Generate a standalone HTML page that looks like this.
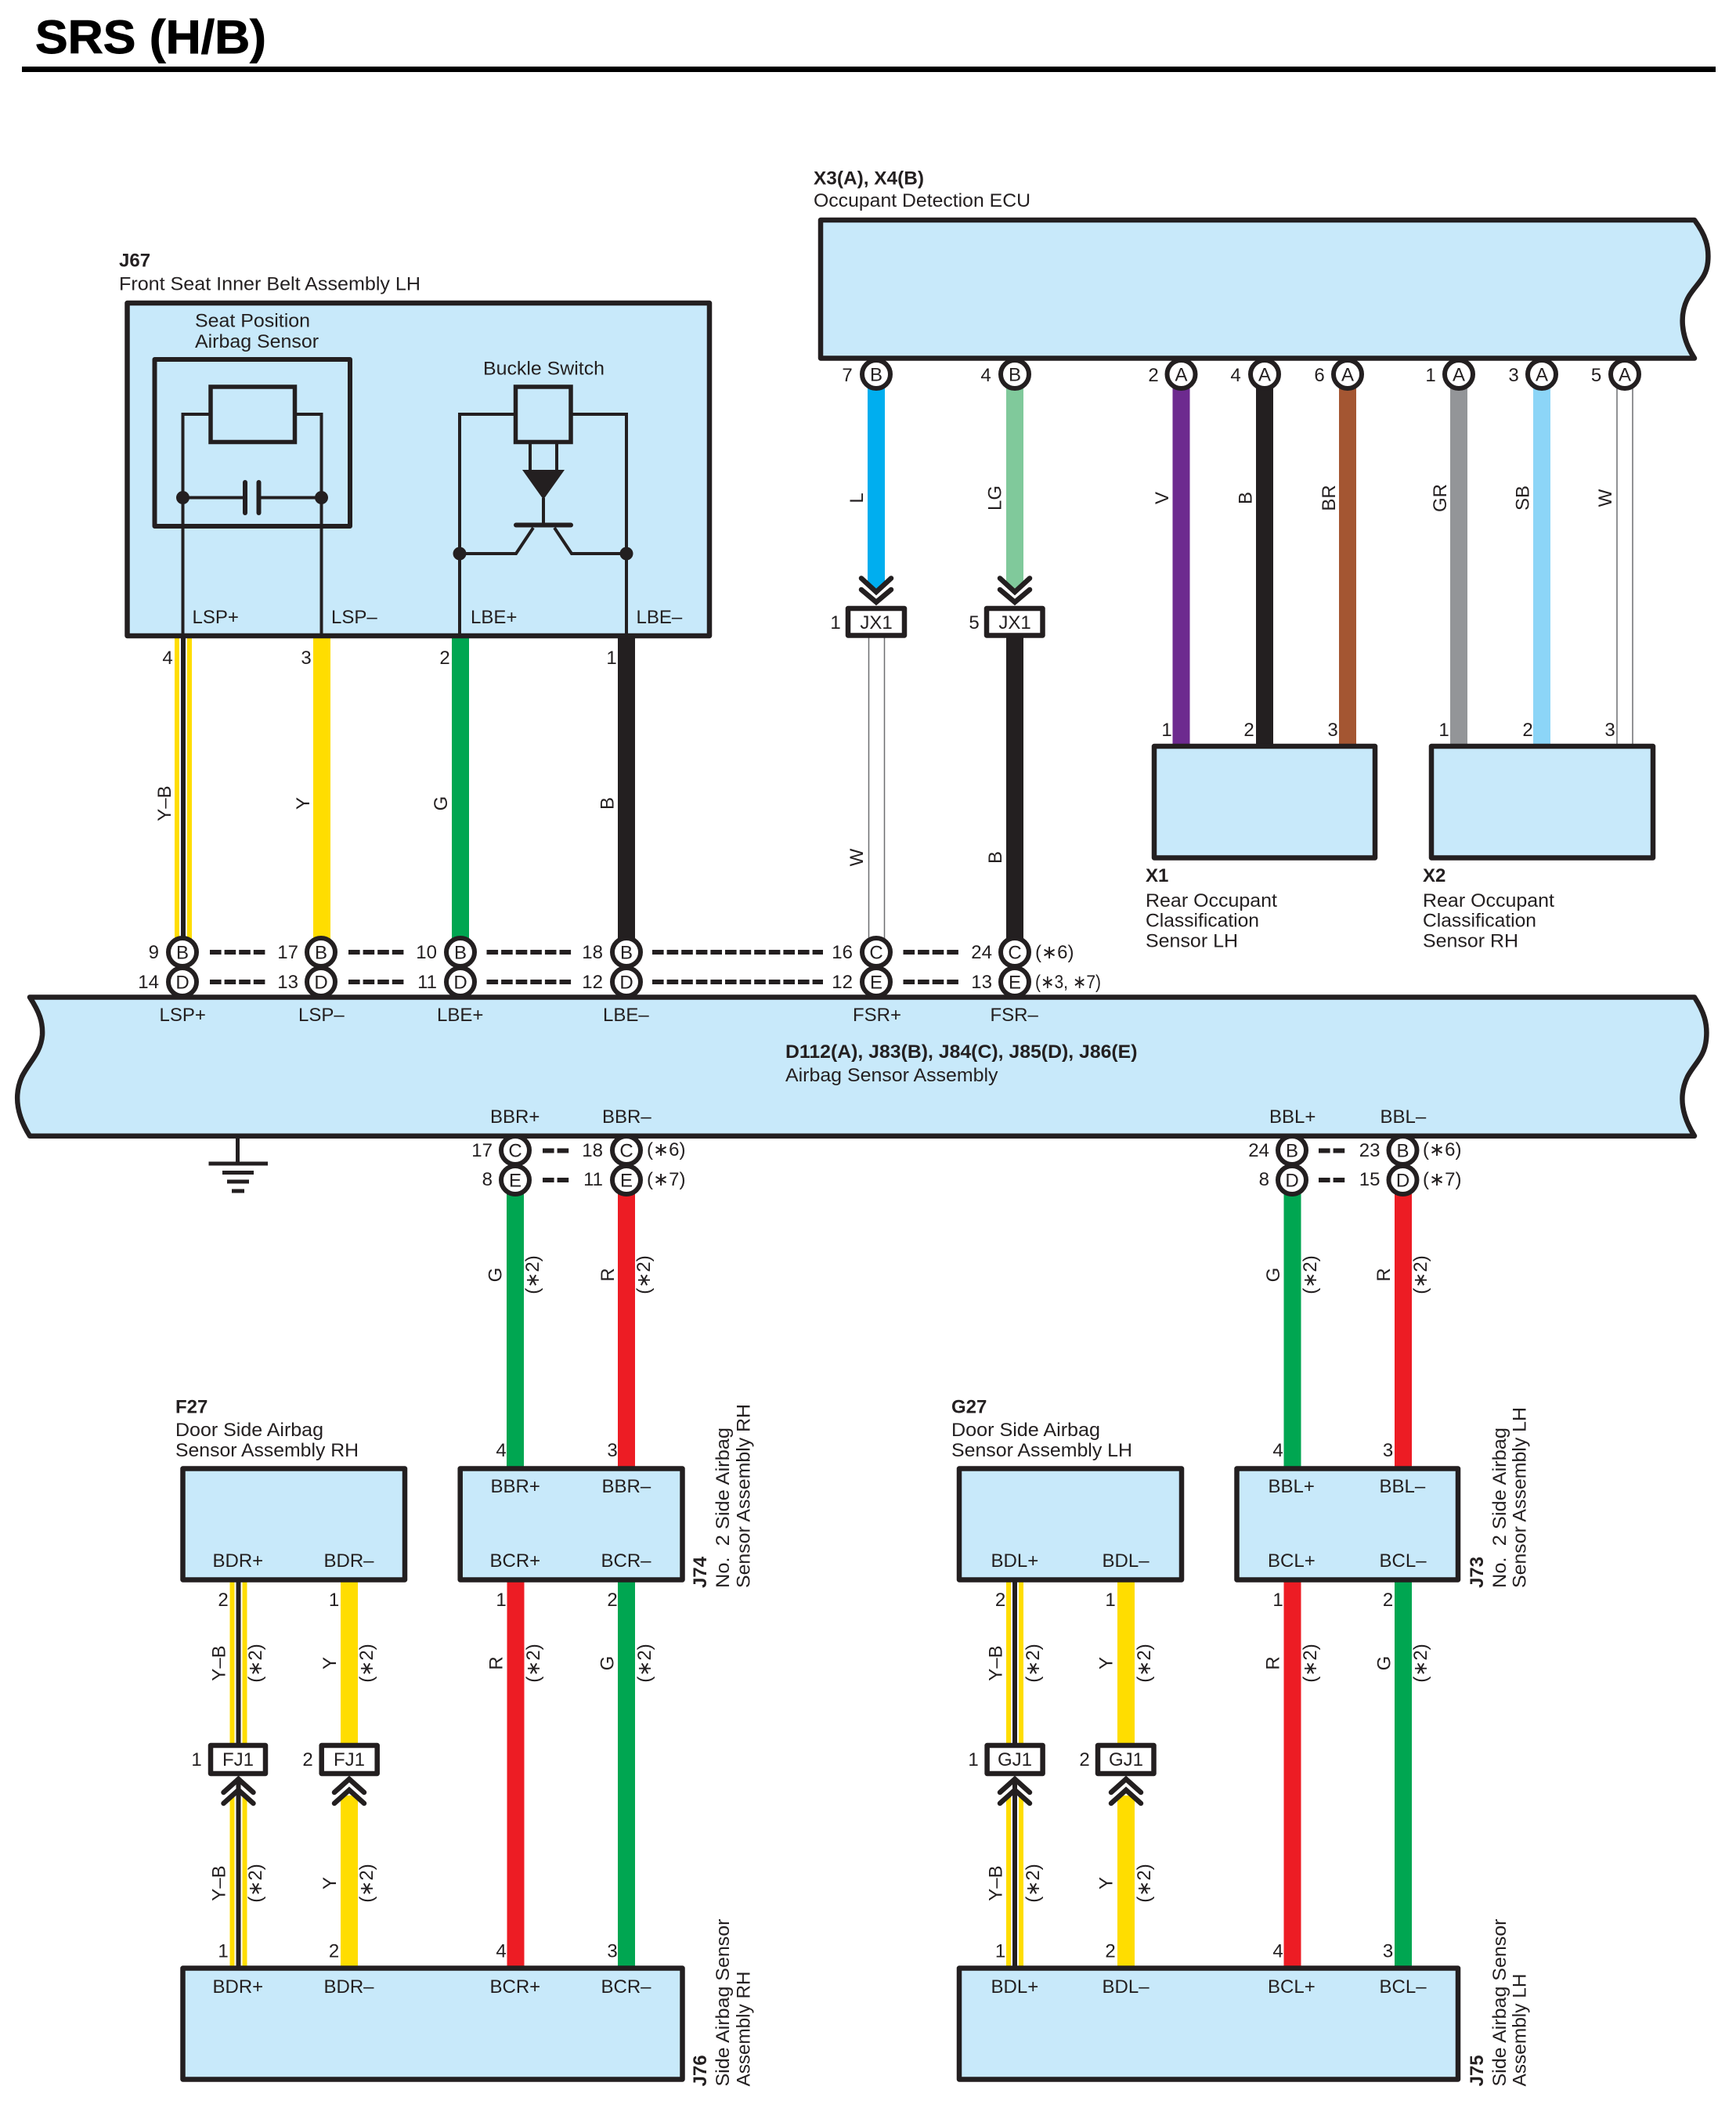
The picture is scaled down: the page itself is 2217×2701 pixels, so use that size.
<!DOCTYPE html>
<html><head><meta charset="utf-8"><title>SRS (H/B)</title>
<style>
html,body{margin:0;padding:0;background:#fff}
svg{display:block}
text{font-family:"Liberation Sans",sans-serif;font-size:24px;fill:#231f20}
.b{font-weight:bold}
.m{text-anchor:middle}
.e{text-anchor:end}
.box{fill:#c8e9fa;stroke:#231f20;stroke-width:6.5;stroke-linejoin:round}
.ln{stroke:#231f20;fill:none}
.c{fill:#fff;stroke:#231f20;stroke-width:6}
.w{stroke-width:22;fill:none}
.gy{stroke:#6d6e71;stroke-width:1.5}
</style></head><body>
<svg xmlns="http://www.w3.org/2000/svg" width="2217" height="2701" viewBox="0 0 2217 2701">
<rect width="2217" height="2701" fill="#fff"/>
<text class="b" x="45" y="68" style="font-size:60px;fill:#000;stroke:#000;stroke-width:.9" textLength="295" lengthAdjust="spacingAndGlyphs">SRS (H/B)</text>
<rect x="28" y="85" width="2163" height="7" fill="#000"/>

<!-- wires top-left -->
<g class="w">
<line x1="234" y1="812" x2="234" y2="1200" stroke="#ffdd00"/>
<line x1="234" y1="812" x2="234" y2="1200" stroke="#fff" stroke-width="10"/>
<line x1="234" y1="812" x2="234" y2="1200" stroke="#231f20" stroke-width="6"/>
<line x1="411" y1="812" x2="411" y2="1200" stroke="#ffdd00"/>
<line x1="588" y1="812" x2="588" y2="1200" stroke="#00a651"/>
<line x1="800" y1="812" x2="800" y2="1200" stroke="#231f20"/>
<line x1="1296" y1="810" x2="1296" y2="1200" stroke="#231f20"/>
<line x1="1508.5" y1="490" x2="1508.5" y2="955" stroke="#6d2a8f"/>
<line x1="1615" y1="490" x2="1615" y2="955" stroke="#231f20"/>
<line x1="1721" y1="490" x2="1721" y2="955" stroke="#a45632"/>
<line x1="1863" y1="490" x2="1863" y2="955" stroke="#939598"/>
<line x1="1969" y1="490" x2="1969" y2="955" stroke="#8cd5f7"/>
<line x1="658" y1="1520" x2="658" y2="1880" stroke="#00a651"/>
<line x1="800" y1="1520" x2="800" y2="1880" stroke="#ed1c24"/>
<line x1="1650.5" y1="1520" x2="1650.5" y2="1880" stroke="#00a651"/>
<line x1="1792" y1="1520" x2="1792" y2="1880" stroke="#ed1c24"/>
<line x1="658.5" y1="2015" x2="658.5" y2="2515" stroke="#ed1c24"/>
<line x1="800" y1="2015" x2="800" y2="2515" stroke="#00a651"/>
<line x1="1650.5" y1="2015" x2="1650.5" y2="2515" stroke="#ed1c24"/>
<line x1="1792" y1="2015" x2="1792" y2="2515" stroke="#00a651"/>
<line x1="446" y1="2015" x2="446" y2="2230" stroke="#ffdd00"/>
<line x1="446" y1="2293" x2="446" y2="2515" stroke="#ffdd00"/>
<line x1="1438" y1="2015" x2="1438" y2="2230" stroke="#ffdd00"/>
<line x1="1438" y1="2293" x2="1438" y2="2515" stroke="#ffdd00"/>
<line x1="304.5" y1="2015" x2="304.5" y2="2230" stroke="#ffdd00"/>
<line x1="304.5" y1="2015" x2="304.5" y2="2230" stroke="#fff" stroke-width="10"/>
<line x1="304.5" y1="2015" x2="304.5" y2="2230" stroke="#231f20" stroke-width="6"/>
<line x1="304.5" y1="2293" x2="304.5" y2="2515" stroke="#ffdd00"/>
<line x1="304.5" y1="2293" x2="304.5" y2="2515" stroke="#fff" stroke-width="10"/>
<line x1="304.5" y1="2272" x2="304.5" y2="2515" stroke="#231f20" stroke-width="6"/>
<line x1="1296" y1="2015" x2="1296" y2="2230" stroke="#ffdd00"/>
<line x1="1296" y1="2015" x2="1296" y2="2230" stroke="#fff" stroke-width="10"/>
<line x1="1296" y1="2015" x2="1296" y2="2230" stroke="#231f20" stroke-width="6"/>
<line x1="1296" y1="2293" x2="1296" y2="2515" stroke="#ffdd00"/>
<line x1="1296" y1="2293" x2="1296" y2="2515" stroke="#fff" stroke-width="10"/>
<line x1="1296" y1="2272" x2="1296" y2="2515" stroke="#231f20" stroke-width="6"/>
</g>
<polygon points="1108,490 1130,490 1130,745 1119,754 1108,745" fill="#00aeef"/>
<polygon points="1285,490 1307,490 1307,745 1296,754 1285,745" fill="#80c99b"/>
<!-- white wires -->
<g class="gy">
<line x1="1109.5" y1="812" x2="1109.5" y2="1200"/><line x1="1129.5" y1="812" x2="1129.5" y2="1200"/>
<line x1="2065" y1="495" x2="2065" y2="953"/><line x1="2085" y1="495" x2="2085" y2="953"/>
</g>

<!-- connector circles -->
<g class="c">
<circle cx="1119" cy="478" r="18"/><circle cx="1296" cy="478" r="18"/><circle cx="1508.5" cy="478" r="18"/><circle cx="1615" cy="478" r="18"/><circle cx="1721" cy="478" r="18"/><circle cx="1863" cy="478" r="18"/><circle cx="1969" cy="478" r="18"/><circle cx="2075" cy="478" r="18"/>
<circle cx="233" cy="1216" r="18"/><circle cx="410" cy="1216" r="18"/><circle cx="588" cy="1216" r="18"/><circle cx="800" cy="1216" r="18"/><circle cx="1119" cy="1216" r="18"/><circle cx="1296" cy="1216" r="18"/>
<circle cx="233" cy="1254" r="18"/><circle cx="410" cy="1254" r="18"/><circle cx="588" cy="1254" r="18"/><circle cx="800" cy="1254" r="18"/><circle cx="1119" cy="1254" r="18"/><circle cx="1296" cy="1254" r="18"/>
<circle cx="658" cy="1469" r="18"/><circle cx="800" cy="1469" r="18"/><circle cx="1650" cy="1469" r="18"/><circle cx="1791.5" cy="1469" r="18"/>
<circle cx="658" cy="1507" r="18"/><circle cx="800" cy="1507" r="18"/><circle cx="1650" cy="1507" r="18"/><circle cx="1791.5" cy="1507" r="18"/>
</g>
<g class="m">
<text x="1119" y="486.5">B</text><text x="1296" y="486.5">B</text><text x="1508.5" y="486.5">A</text><text x="1615" y="486.5">A</text><text x="1721" y="486.5">A</text><text x="1863" y="486.5">A</text><text x="1969" y="486.5">A</text><text x="2075" y="486.5">A</text>
<text x="233" y="1224.5">B</text><text x="410" y="1224.5">B</text><text x="588" y="1224.5">B</text><text x="800" y="1224.5">B</text><text x="1119" y="1224.5">C</text><text x="1296" y="1224.5">C</text>
<text x="233" y="1262.5">D</text><text x="410" y="1262.5">D</text><text x="588" y="1262.5">D</text><text x="800" y="1262.5">D</text><text x="1119" y="1262.5">E</text><text x="1296" y="1262.5">E</text>
<text x="658" y="1477.5">C</text><text x="800" y="1477.5">C</text><text x="1650" y="1477.5">B</text><text x="1791.5" y="1477.5">B</text>
<text x="658" y="1515.5">E</text><text x="800" y="1515.5">E</text><text x="1650" y="1515.5">D</text><text x="1791.5" y="1515.5">D</text>
</g>

<!-- ECU -->
<text class="b" x="1039" y="235.5" textLength="141" lengthAdjust="spacingAndGlyphs">X3(A), X4(B)</text>
<text x="1039" y="264" textLength="277" lengthAdjust="spacingAndGlyphs">Occupant Detection ECU</text>
<path class="box" d="M1048,281 L2164,281 C2178,300 2183,315 2181,335 C2179,355 2167,362 2157,378 C2144,400 2146,430 2164,457.5 L1048,457.5 Z"/>

<!-- J67 -->
<text class="b" x="152" y="340.5">J67</text>
<text x="152" y="370.5" textLength="385" lengthAdjust="spacingAndGlyphs">Front Seat Inner Belt Assembly LH</text>
<rect class="box" x="162.5" y="387" width="743.5" height="425"/>
<text x="249" y="417.5" textLength="147" lengthAdjust="spacingAndGlyphs">Seat Position</text>
<text x="249" y="444" textLength="158" lengthAdjust="spacingAndGlyphs">Airbag Sensor</text>
<text x="617" y="478.5" textLength="155" lengthAdjust="spacingAndGlyphs">Buckle Switch</text>
<rect class="ln" x="197.5" y="459" width="249.5" height="213" stroke-width="6" stroke-linejoin="round"/>
<rect class="ln" x="269" y="494" width="107.5" height="70.5" stroke-width="5.5"/>
<rect class="ln" x="658.5" y="494" width="70.5" height="70.5" stroke-width="5.5"/>
<g class="ln" stroke-width="4">
<path d="M269,529 H233.5 V812"/>
<path d="M376,529 H410.5 V812"/>
<path d="M233.5,635.5 H313"/><path d="M330,635.5 H410.5"/>
<path d="M658,529 H587 V812"/>
<path d="M729,529 H800 V812"/>
<path d="M677,565 V602"/><path d="M711,565 V602"/>
<path d="M694,636 V670"/>
<path d="M681,674 L659,707 H587"/>
<path d="M708,674 L730,707 H800"/>
</g>
<g class="ln" stroke-width="6" stroke-linecap="round">
<path d="M313,616 V655"/><path d="M330.5,616 V655"/>
<path d="M659,670.5 H729"/>
</g>
<polygon points="667,600 721,600 694,638" fill="#231f20"/>
<g fill="#231f20">
<circle cx="233.5" cy="635.5" r="8.5"/><circle cx="410.5" cy="635.5" r="8.5"/>
<circle cx="587" cy="707" r="8.5"/><circle cx="800" cy="707" r="8.5"/>
</g>
<text x="245.5" y="796">LSP+</text><text x="423" y="796">LSP–</text><text x="601" y="796">LBE+</text><text x="812.5" y="796">LBE–</text>
<g class="m"><text x="214" y="848">4</text><text x="391" y="848">3</text><text x="568" y="848">2</text><text x="781" y="848">1</text></g>

<!-- JX1 -->
<g class="ln" stroke-width="6.5" stroke-linecap="round">
<path d="M1100,738.5 L1119,756 L1138,738.5"/><path d="M1100,753 L1119,769 L1138,753"/>
<path d="M1277,738.5 L1296,756 L1315,738.5"/><path d="M1277,753 L1296,769 L1315,753"/>
</g>
<rect x="1083" y="777" width="72" height="34.5" fill="#fff" stroke="#231f20" stroke-width="6.5" stroke-linejoin="round"/>
<rect x="1260" y="777" width="71.5" height="34.5" fill="#fff" stroke="#231f20" stroke-width="6.5" stroke-linejoin="round"/>
<text class="m" x="1119" y="803">JX1</text><text class="m" x="1296" y="803">JX1</text>
<text class="m" x="1067" y="803">1</text><text class="m" x="1244" y="803">5</text>

<!-- ECU pins -->
<g class="m">
<text x="1082" y="487">7</text><text x="1259" y="487">4</text><text x="1473" y="487">2</text><text x="1578" y="487">4</text><text x="1685" y="487">6</text><text x="1827" y="487">1</text><text x="1933" y="487">3</text><text x="2038.5" y="487">5</text>
<text x="1490" y="940">1</text><text x="1595" y="940">2</text><text x="1702" y="940">3</text><text x="1844" y="940">1</text><text x="1951" y="940">2</text><text x="2056" y="940">3</text>
</g>

<!-- X1 X2 -->
<rect class="box" x="1474" y="953" width="282" height="142.5"/>
<rect class="box" x="1828" y="953" width="283" height="142.5"/>
<text class="b" x="1463" y="1126">X1</text>
<text x="1463" y="1158" textLength="168" lengthAdjust="spacingAndGlyphs">Rear Occupant</text>
<text x="1463" y="1183.5" textLength="145" lengthAdjust="spacingAndGlyphs">Classification</text>
<text x="1463" y="1209.5" textLength="118" lengthAdjust="spacingAndGlyphs">Sensor LH</text>
<text class="b" x="1817" y="1126">X2</text>
<text x="1817" y="1158" textLength="168" lengthAdjust="spacingAndGlyphs">Rear Occupant</text>
<text x="1817" y="1183.5" textLength="145" lengthAdjust="spacingAndGlyphs">Classification</text>
<text x="1817" y="1209.5" textLength="122" lengthAdjust="spacingAndGlyphs">Sensor RH</text>

<!-- rotated wire labels -->
<g class="m">
<text transform="translate(1102,636) rotate(-90)">L</text>
<text transform="translate(1278.5,636) rotate(-90)">LG</text>
<text transform="translate(1492,636) rotate(-90)">V</text>
<text transform="translate(1598.5,636) rotate(-90)">B</text>
<text transform="translate(1705,636) rotate(-90)">BR</text>
<text transform="translate(1847,636) rotate(-90)">GR</text>
<text transform="translate(1952.5,636) rotate(-90)">SB</text>
<text transform="translate(2058,636) rotate(-90)">W</text>
<text transform="translate(1102,1095) rotate(-90)">W</text>
<text transform="translate(1279,1095) rotate(-90)">B</text>
<text transform="translate(218,1026) rotate(-90)">Y–B</text>
<text transform="translate(395,1026) rotate(-90)">Y</text>
<text transform="translate(571,1026) rotate(-90)">G</text>
<text transform="translate(783.5,1026) rotate(-90)">B</text>
<text transform="translate(640.5,1628) rotate(-90)">G</text>
<text transform="translate(784,1628) rotate(-90)">R</text>
<text transform="translate(1634,1628) rotate(-90)">G</text>
<text transform="translate(1775,1628) rotate(-90)">R</text>
<text transform="translate(688,1628) rotate(-90)">(∗2)</text>
<text transform="translate(830,1628) rotate(-90)">(∗2)</text>
<text transform="translate(1681,1628) rotate(-90)">(∗2)</text>
<text transform="translate(1822,1628) rotate(-90)">(∗2)</text>
<text transform="translate(287.5,2124) rotate(-90)">Y–B</text>
<text transform="translate(429,2124) rotate(-90)">Y</text>
<text transform="translate(641.5,2124) rotate(-90)">R</text>
<text transform="translate(783.5,2124) rotate(-90)">G</text>
<text transform="translate(334,2124) rotate(-90)">(∗2)</text>
<text transform="translate(476,2124) rotate(-90)">(∗2)</text>
<text transform="translate(689,2124) rotate(-90)">(∗2)</text>
<text transform="translate(831,2124) rotate(-90)">(∗2)</text>
<text transform="translate(287.5,2405) rotate(-90)">Y–B</text>
<text transform="translate(429,2405) rotate(-90)">Y</text>
<text transform="translate(334,2405) rotate(-90)">(∗2)</text>
<text transform="translate(476,2405) rotate(-90)">(∗2)</text>
<text transform="translate(1279.5,2124) rotate(-90)">Y–B</text>
<text transform="translate(1420.5,2124) rotate(-90)">Y</text>
<text transform="translate(1633.5,2124) rotate(-90)">R</text>
<text transform="translate(1775.5,2124) rotate(-90)">G</text>
<text transform="translate(1327,2124) rotate(-90)">(∗2)</text>
<text transform="translate(1469,2124) rotate(-90)">(∗2)</text>
<text transform="translate(1681,2124) rotate(-90)">(∗2)</text>
<text transform="translate(1822,2124) rotate(-90)">(∗2)</text>
<text transform="translate(1279.5,2405) rotate(-90)">Y–B</text>
<text transform="translate(1420.5,2405) rotate(-90)">Y</text>
<text transform="translate(1327,2405) rotate(-90)">(∗2)</text>
<text transform="translate(1469,2405) rotate(-90)">(∗2)</text>
</g>

<!-- dashes -->
<g class="ln" stroke-width="6" stroke-dasharray="14.6 4">
<path d="M268,1216 H340"/><path d="M445,1216 H517"/><path d="M621.5,1216 H731"/><path d="M833,1216 H1051"/><path d="M1153.5,1216 H1227"/>
<path d="M268,1254 H340"/><path d="M445,1254 H517"/><path d="M621.5,1254 H731"/><path d="M833,1254 H1051"/><path d="M1153.5,1254 H1227"/>
<path d="M693,1469.5 H727.5"/><path d="M693,1507 H727.5"/><path d="M1684,1469.5 H1719"/><path d="M1684,1507 H1719"/>
</g>
<g class="e">
<text x="203" y="1224">9</text><text x="381" y="1224">17</text><text x="558" y="1224">10</text><text x="770" y="1224">18</text><text x="1089" y="1224">16</text><text x="1267" y="1224">24</text>
<text x="203" y="1262">14</text><text x="381" y="1262">13</text><text x="558" y="1262">11</text><text x="770" y="1262">12</text><text x="1089" y="1262">12</text><text x="1267" y="1262">13</text>
<text x="629" y="1477">17</text><text x="770" y="1477">18</text><text x="1621" y="1477">24</text><text x="1762.5" y="1477">23</text>
<text x="629" y="1514">8</text><text x="770" y="1514">11</text><text x="1621" y="1514">8</text><text x="1762.5" y="1514">15</text>
</g>
<text x="1322" y="1224">(∗6)</text>
<text x="1322" y="1262" textLength="84" lengthAdjust="spacingAndGlyphs">(∗3, ∗7)</text>
<text x="826" y="1476">(∗6)</text><text x="826" y="1514">(∗7)</text>
<text x="1817" y="1476">(∗6)</text><text x="1817" y="1514">(∗7)</text>

<!-- main bar -->
<path class="box" d="M38,1273.5 L2164,1273.5 C2176,1292 2181,1307 2179,1327 C2177,1350 2164,1358 2155,1375 C2143,1400 2148,1425 2164,1450.7 L38,1450.7 C22,1425 17,1400 28,1375 C38,1355 52,1345 54,1322 C55,1305 50,1292 38,1273.5 Z"/>
<text x="203.5" y="1304">LSP+</text><text x="381" y="1304">LSP–</text><text x="558" y="1304">LBE+</text><text x="770" y="1304">LBE–</text><text x="1089" y="1304">FSR+</text><text x="1264.5" y="1304">FSR–</text>
<text class="b" x="1003" y="1351" textLength="449.5" lengthAdjust="spacingAndGlyphs">D112(A), J83(B), J84(C), J85(D), J86(E)</text>
<text x="1003" y="1381" textLength="271.5" lengthAdjust="spacingAndGlyphs">Airbag Sensor Assembly</text>
<text x="626" y="1434">BBR+</text><text x="769" y="1434">BBR–</text><text x="1621" y="1434">BBL+</text><text x="1762.5" y="1434">BBL–</text>

<!-- ground -->
<g class="ln" stroke-width="5">
<path d="M303.5,1454 V1486"/><path d="M266.5,1486 H342"/><path d="M284,1497.5 H324"/><path d="M290,1509 H318"/><path d="M296,1521 H312"/>
</g>

<!-- lower boxes -->
<text class="b" x="224" y="1804.5">F27</text>
<text x="224" y="1834" textLength="189" lengthAdjust="spacingAndGlyphs">Door Side Airbag</text>
<text x="224" y="1860" textLength="234" lengthAdjust="spacingAndGlyphs">Sensor Assembly RH</text>
<rect class="box" x="233.5" y="1875.5" width="283.5" height="142"/>
<rect class="box" x="587.7" y="1875.5" width="283.8" height="142"/>
<rect class="box" x="233.5" y="2513.5" width="638" height="142"/>
<text class="b" x="1215" y="1804.5">G27</text>
<text x="1215" y="1834" textLength="190" lengthAdjust="spacingAndGlyphs">Door Side Airbag</text>
<text x="1215" y="1860" textLength="231" lengthAdjust="spacingAndGlyphs">Sensor Assembly LH</text>
<rect class="box" x="1225" y="1875.5" width="284" height="142"/>
<rect class="box" x="1579.5" y="1875.5" width="282.5" height="142"/>
<rect class="box" x="1225" y="2513.5" width="637" height="142"/>

<text x="626.5" y="1906">BBR+</text><text x="768.5" y="1906">BBR–</text>
<text x="271.5" y="2001">BDR+</text><text x="413.5" y="2001">BDR–</text><text x="625.5" y="2001">BCR+</text><text x="767.5" y="2001">BCR–</text>
<text x="271.5" y="2545">BDR+</text><text x="413.5" y="2545">BDR–</text><text x="625.5" y="2545">BCR+</text><text x="767.5" y="2545">BCR–</text>
<text x="1619.5" y="1906">BBL+</text><text x="1761.5" y="1906">BBL–</text>
<text x="1265.5" y="2001">BDL+</text><text x="1407.5" y="2001">BDL–</text><text x="1619" y="2001">BCL+</text><text x="1761.5" y="2001">BCL–</text>
<text x="1265.5" y="2545">BDL+</text><text x="1407.5" y="2545">BDL–</text><text x="1619" y="2545">BCL+</text><text x="1761.5" y="2545">BCL–</text>

<g class="m">
<text x="640" y="1860">4</text><text x="782" y="1860">3</text><text x="1632" y="1860">4</text><text x="1772.5" y="1860">3</text>
<text x="285" y="2051">2</text><text x="426.5" y="2051">1</text><text x="640" y="2051">1</text><text x="782" y="2051">2</text>
<text x="1277.5" y="2051">2</text><text x="1418" y="2051">1</text><text x="1632" y="2051">1</text><text x="1772.5" y="2051">2</text>
<text x="285" y="2499.5">1</text><text x="426.5" y="2499.5">2</text><text x="640" y="2499.5">4</text><text x="782" y="2499.5">3</text>
<text x="1277.5" y="2499.5">1</text><text x="1418" y="2499.5">2</text><text x="1632" y="2499.5">4</text><text x="1772.5" y="2499.5">3</text>
<text x="251" y="2255">1</text><text x="393" y="2255">2</text><text x="1243" y="2255">1</text><text x="1385" y="2255">2</text>
</g>

<!-- FJ1 / GJ1 -->
<g fill="#fff" stroke="#231f20" stroke-width="6.5" stroke-linejoin="round">
<rect x="269" y="2229" width="70" height="36"/><rect x="410.7" y="2229" width="71" height="36"/>
<rect x="1260.6" y="2229" width="71" height="36"/><rect x="1402" y="2229" width="71.5" height="36"/>
</g>
<g class="m"><text x="304" y="2255">FJ1</text><text x="446" y="2255">FJ1</text><text x="1296" y="2255">GJ1</text><text x="1438" y="2255">GJ1</text></g>
<g class="ln" stroke-width="6.5" stroke-linecap="round">
<path d="M285.5,2289 L304.5,2272 L323.5,2289"/><path d="M285.5,2303 L304.5,2286 L323.5,2303"/>
<path d="M427,2289 L446,2272 L465,2289"/><path d="M427,2303 L446,2286 L465,2303"/>
<path d="M1277,2289 L1296,2272 L1315,2289"/><path d="M1277,2303 L1296,2286 L1315,2303"/>
<path d="M1419,2289 L1438,2272 L1457,2289"/><path d="M1419,2303 L1438,2286 L1457,2303"/>
</g>

<!-- rotated component labels -->
<text class="b" transform="translate(902,2028) rotate(-90)">J74</text>
<text transform="translate(931,2028) rotate(-90)" textLength="205" lengthAdjust="spacingAndGlyphs">No.&#160; 2 Side Airbag</text>
<text transform="translate(957.5,2028) rotate(-90)" textLength="235" lengthAdjust="spacingAndGlyphs">Sensor Assembly RH</text>
<text class="b" transform="translate(902,2664.5) rotate(-90)">J76</text>
<text transform="translate(931,2664.5) rotate(-90)" textLength="214" lengthAdjust="spacingAndGlyphs">Side Airbag Sensor</text>
<text transform="translate(957.5,2664.5) rotate(-90)" textLength="147" lengthAdjust="spacingAndGlyphs">Assembly RH</text>
<text class="b" transform="translate(1894,2028) rotate(-90)">J73</text>
<text transform="translate(1923,2028) rotate(-90)" textLength="205" lengthAdjust="spacingAndGlyphs">No.&#160; 2 Side Airbag</text>
<text transform="translate(1948.5,2028) rotate(-90)" textLength="231" lengthAdjust="spacingAndGlyphs">Sensor Assembly LH</text>
<text class="b" transform="translate(1894,2664.5) rotate(-90)">J75</text>
<text transform="translate(1923,2664.5) rotate(-90)" textLength="214" lengthAdjust="spacingAndGlyphs">Side Airbag Sensor</text>
<text transform="translate(1948.5,2664.5) rotate(-90)" textLength="144" lengthAdjust="spacingAndGlyphs">Assembly LH</text>
</svg>
</body></html>
